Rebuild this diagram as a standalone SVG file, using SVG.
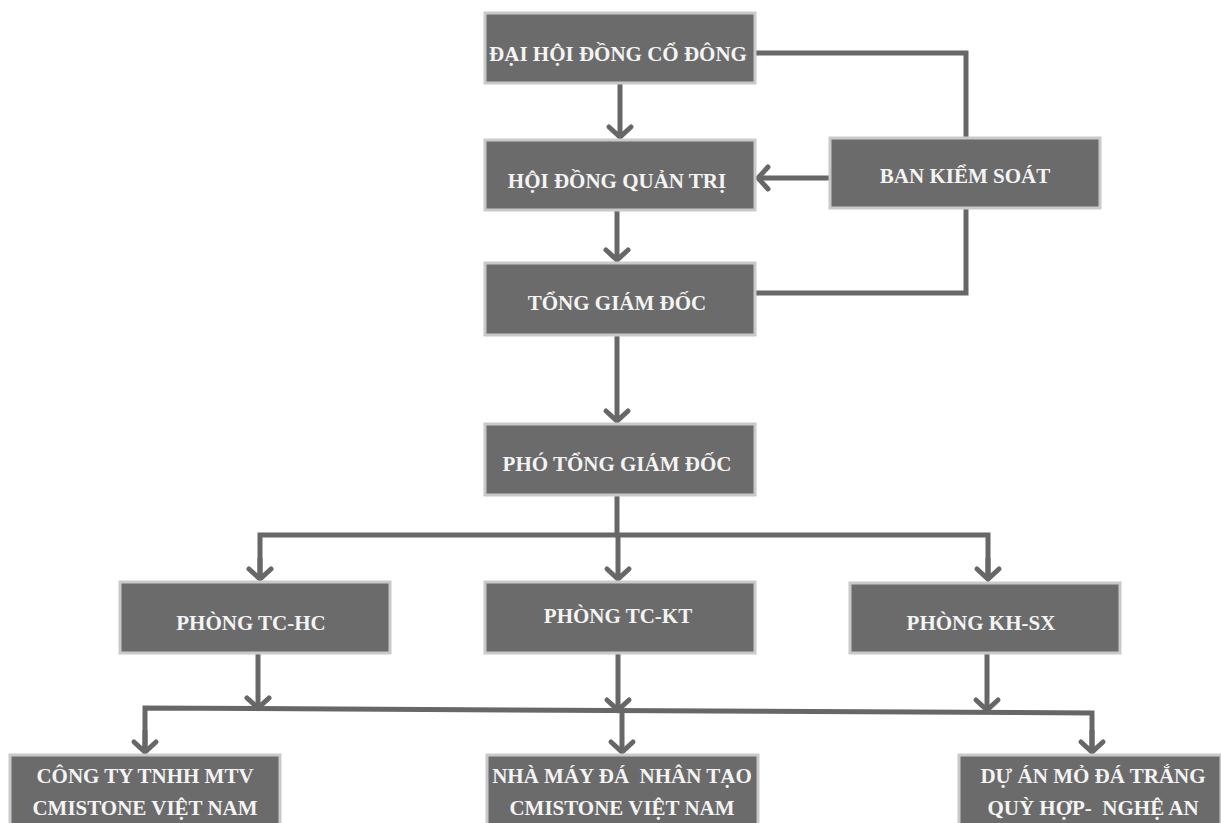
<svg xmlns="http://www.w3.org/2000/svg" width="1221" height="823" viewBox="0 0 1221 823">
<style>
.box{fill:#6b6b6b;stroke:#c9c9c9;stroke-width:3}
text{fill:#f4f4f4;font-family:'Liberation Serif',serif;font-weight:700;font-size:21px;text-anchor:middle;white-space:pre}
.c{fill:none;stroke:#676767;stroke-width:5;stroke-linejoin:miter}
</style>
<defs>
<marker id="ah" markerUnits="userSpaceOnUse" viewBox="-14 -14 20 28" refX="0" refY="0" markerWidth="20" markerHeight="28" orient="auto" overflow="visible">
<path d="M-10,-11 L0,0 L-10,11" fill="none" stroke="#676767" stroke-width="5" stroke-linecap="round" stroke-linejoin="miter"/>
</marker>
</defs>
<rect width="1221" height="823" fill="#ffffff"/>
<g id="connectors">
<path class="c" d="M756,53 H966 V137"/>
<path class="c" d="M966,209 V293 H756"/>
<path class="c" d="M829,178 H758" marker-end="url(#ah)"/>
<path class="c" d="M620,84 V137" marker-end="url(#ah)"/>
<path class="c" d="M617,211 V260" marker-end="url(#ah)"/>
<path class="c" d="M617,336 V421" marker-end="url(#ah)"/>
<path class="c" d="M617,496 V535"/>
<path class="c" d="M260,579 V535 H988 V579"/>
<path class="c" d="M260,558 V579" marker-end="url(#ah)"/>
<path class="c" d="M988,558 V579" marker-end="url(#ah)"/>
<path class="c" d="M618,535 V579" marker-end="url(#ah)"/>
<path class="c" d="M258,654 V708" marker-end="url(#ah)"/>
<path class="c" d="M618,654 V710" marker-end="url(#ah)"/>
<path class="c" d="M987,654 V710" marker-end="url(#ah)"/>
<path class="c" d="M145,752 V708 L1092,713 V752"/>
<path class="c" d="M145,730 V752" marker-end="url(#ah)"/>
<path class="c" d="M622,710 V752" marker-end="url(#ah)"/>
<path class="c" d="M1092,730 V752" marker-end="url(#ah)"/>
</g>
<g id="dhdcd"><rect class="box" x="485" y="13" width="270" height="70"/><text x="618" y="61" font-family="Liberation Serif">ĐẠI HỘI ĐỒNG CỔ ĐÔNG</text></g>
<g id="hdqt"><rect class="box" x="485" y="140" width="270" height="70"/><text x="617" y="188" font-family="Liberation Serif">HỘI ĐỒNG QUẢN TRỊ</text></g>
<g id="bks"><rect class="box" x="830" y="138" width="270" height="70"/><text x="965" y="183" font-family="Liberation Serif">BAN KIỂM SOÁT</text></g>
<g id="tgd"><rect class="box" x="485" y="263" width="270" height="72"/><text x="617" y="310" font-family="Liberation Serif">TỔNG GIÁM ĐỐC</text></g>
<g id="ptgd"><rect class="box" x="485" y="424" width="270" height="71"/><text x="617" y="471" font-family="Liberation Serif">PHÓ TỔNG GIÁM ĐỐC</text></g>
<g id="tchc"><rect class="box" x="120" y="582" width="270" height="71"/><text x="251" y="630" font-family="Liberation Serif">PHÒNG TC-HC</text></g>
<g id="tckt"><rect class="box" x="485" y="582" width="270" height="71"/><text x="618" y="623" font-family="Liberation Serif">PHÒNG TC-KT</text></g>
<g id="khsx"><rect class="box" x="850" y="583" width="270" height="70"/><text x="981" y="630" font-family="Liberation Serif">PHÒNG KH-SX</text></g>
<g id="cty"><rect class="box" x="10" y="755" width="270" height="75"/><text x="145" y="783" font-family="Liberation Serif">CÔNG TY TNHH MTV</text><text x="145" y="815" font-family="Liberation Serif">CMISTONE VIỆT NAM</text></g>
<g id="nm"><rect class="box" x="487" y="755" width="271" height="75"/><text x="622" y="783" font-family="Liberation Serif">NHÀ MÁY ĐÁ  NHÂN TẠO</text><text x="622" y="815" font-family="Liberation Serif">CMISTONE VIỆT NAM</text></g>
<g id="da"><rect class="box" x="959" y="755" width="262" height="75"/><text x="1093" y="783" font-family="Liberation Serif">DỰ ÁN MỎ ĐÁ TRẮNG</text><text x="1093" y="815" font-family="Liberation Serif">QUỲ HỢP-  NGHỆ AN</text></g>
</svg>
